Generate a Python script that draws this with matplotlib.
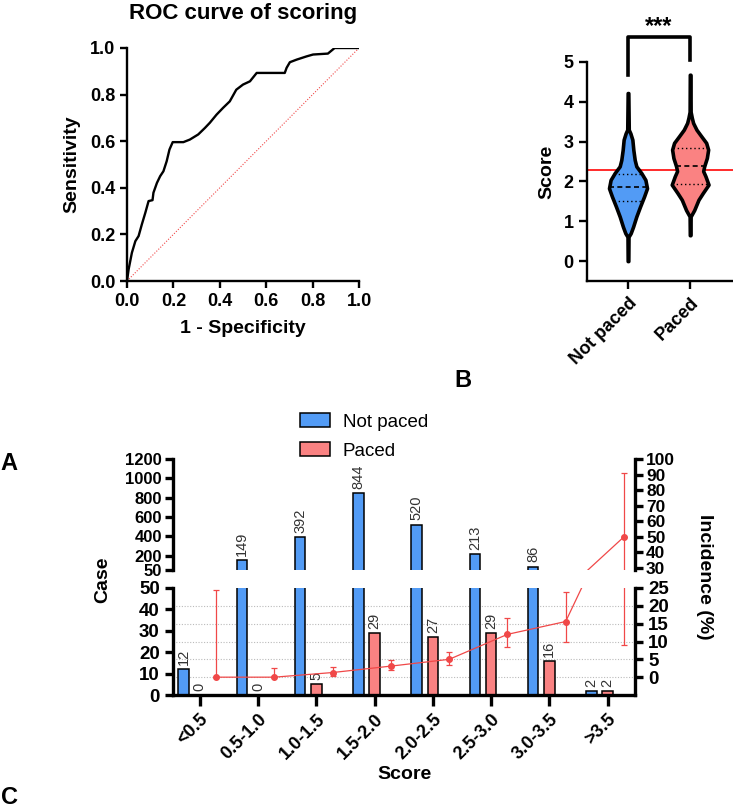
import numpy as np
import matplotlib
matplotlib.use("Agg")
import matplotlib.pyplot as plt
from matplotlib.patches import Patch
from matplotlib.transforms import blended_transform_factory

# ---- data ----
roc_fpr = [0, .007, .021, .036, .05, .064, .079, .093, .11, .114, .129, .143,
           .157, .171, .183, .197, .243, .271, .307, .336, .357, .386, .414,
           .443, .471, .5, .53, .559, .68, .688, .702, .731, .774, .802, .866,
           .895, 1.0]
roc_tpr = [0, .05, .121, .171, .193, .243, .293, .343, .347, .379, .421, .45,
           .471, .514, .564, .596, .596, .607, .629, .657, .679, .714, .743,
           .771, .821, .843, .857, .893, .893, .915, .939, .95, .964, .972,
           .976, 1.0, 1.0]

violin_groups = ["Not paced", "Paced"]
# violin outline: score levels and half-widths (x units)
np_score = [0.0, 0.61, 0.70, 0.86, 1.12, 1.37, 1.62, 1.83, 2.04, 2.21, 2.38,
            2.54, 2.79, 3.05, 3.21, 3.30, 4.22]
np_hw = [.005, .008, .043, .081, .134, .194, .258, .306, .280, .215, .134,
         .108, .086, .070, .038, .012, .005]
p_score = [0.65, 1.12, 1.28, 1.54, 1.71, 1.92, 2.13, 2.26, 2.38, 2.59, 2.80,
           2.97, 3.14, 3.30, 3.47, 3.60, 3.75, 4.68]
p_hw = [.005, .008, .065, .134, .204, .296, .247, .210, .226, .269, .290,
        .258, .177, .102, .048, .027, .008, .005]
np_quart = [1.51, 1.85, 2.18]
p_quart = [1.93, 2.38, 2.84]
cutoff = 2.29

score_bins = ["<0.5", "0.5-1.0", "1.0-1.5", "1.5-2.0", "2.0-2.5", "2.5-3.0",
              "3.0-3.5", ">3.5"]
not_paced = [12, 149, 392, 844, 520, 213, 86, 2]
paced = [0, 0, 5, 29, 27, 29, 16, 2]
incidence = [0, 0, 1.3, 3.1, 5.0, 12.0, 15.6, 50]
inc_low = [0, 0, 0.4, 2.0, 3.4, 8.4, 9.8, 9]
inc_high = [24.5, 2.5, 2.9, 4.8, 7.0, 16.6, 23.9, 91]

BLUE = "#529BF5"
PINK = "#FA8282"
RED = "#F04848"

plt.rcParams["font.family"] = ["Liberation Sans", "DejaVu Sans"]
plt.rcParams["font.weight"] = "bold"
plt.rcParams["axes.labelweight"] = "bold"

W, H = 733, 811


def box(l, t, r, b):
    return [l / W, 1 - b / H, (r - l) / W, (b - t) / H]


def style(ax, lw, tl, ls):
    for s in ["top", "right"]:
        ax.spines[s].set_visible(False)
    for s in ["left", "bottom"]:
        ax.spines[s].set_linewidth(lw)
    ax.tick_params(width=lw, length=tl, labelsize=ls)


fig = plt.figure(figsize=(W / 100, H / 100), dpi=100)

# ---- A: ROC ----
ax = fig.add_axes(box(127, 48, 359, 281))
ax.plot([0, 1], [0, 1], color=RED, lw=0.8, ls=(0, (1, 1.5)))
ax.plot(roc_fpr, roc_tpr, color="black", lw=1.7)
ax.set_xlim(0, 1)
ax.set_ylim(0, 1)
ax.set_xticks(np.arange(0, 1.01, 0.2))
ax.set_yticks(np.arange(0, 1.01, 0.2))
style(ax, 1.7, 5, 13)
ax.set_xlabel("1 - Specificity", fontsize=14, labelpad=7)
ax.set_ylabel("Sensitivity", fontsize=14, labelpad=7)
fig.text(243 / W, 1 - 13 / H, "ROC curve of scoring", fontsize=16,
         ha="center", va="center")

# ---- B: violins ----
bx = fig.add_axes(box(587, 62, 733, 281))
bx.axhline(cutoff, color="#FF2A2A", lw=1.4, zorder=1)
for i, (s, h, q, c) in enumerate([(np_score, np_hw, np_quart, BLUE),
                                  (p_score, p_hw, p_quart, PINK)]):
    s = np.array(s)
    h = np.array(h)
    bx.fill_betweenx(s, i - h, i + h, facecolor=c, edgecolor="black",
                     lw=2.6, zorder=3)
    for k, qv in enumerate(q):
        w = np.interp(qv, s, h)
        bx.plot([i - w, i + w], [qv, qv], color="black", zorder=4,
                lw=1.2 if k == 1 else 1.0,
                ls=(0, (3, 2)) if k == 1 else (0, (1, 2)))
bx.plot([0, 0, 1, 1], [4.68, 5.62, 5.62, 5.06], color="black", lw=2.6,
        clip_on=False)
bx.text(0.5, 5.9, "***", fontsize=17, ha="center", va="center")
bx.set_xlim(-0.66, 1.69)
bx.set_ylim(-0.5, 5)
bx.set_yticks(range(0, 6))
bx.set_xticks([0, 1])
bx.set_xticklabels(violin_groups, rotation=45, ha="right",
                   rotation_mode="anchor")
style(bx, 1.7, 6, 13)
bx.set_ylabel("Score", fontsize=14, labelpad=6)

# ---- C: broken-axis grouped bars with incidence ----
x = np.arange(len(score_bins))
off = 0.28
bw = 0.18
ax_t = fig.add_axes(box(173, 459, 635, 570))
ax_b = fig.add_axes(box(173, 588, 635, 695))
for a, lo, hi in [(ax_t, 50, 1200), (ax_b, 0, 50)]:
    a.bar(x - off, not_paced, bw, color=BLUE, edgecolor="black", lw=1.1,
          zorder=2)
    a.bar(x, paced, bw, color=PINK, edgecolor="black", lw=1.1, zorder=2)
    a.set_ylim(lo, hi)
    a.set_xlim(-0.46, 7.47)
    for xs, vals in [(x - off, not_paced), (x, paced)]:
        for xi, v in zip(xs, vals):
            if (v > 50) == (a is ax_t):
                a.annotate(str(v), (xi, v), xytext=(0, 3),
                           textcoords="offset points", rotation=90,
                           ha="center", va="bottom", fontsize=10.5,
                           fontweight="normal", color="#333333")
    style(a, 2.4, 6, 13.5)
    a.spines["right"].set_visible(False)

ax_t.spines["bottom"].set_visible(False)
ax_t.set_xticks([])
ax_t.set_yticks([50, 200, 400, 600, 800, 1000, 1200])
ax_t.tick_params(axis="y", labelsize=12, pad=2)
ax_b.set_yticks(range(0, 51, 10))
ax_b.set_xticks(x)
ax_b.set_xticklabels(score_bins, rotation=45, ha="right",
                     rotation_mode="anchor", fontsize=13)
ax_b.tick_params(axis="x", length=8)
ax_b.set_xlabel("Score", fontsize=14, labelpad=2)

r_t = ax_t.twinx()
r_b = ax_b.twinx()
for r, lo, hi, ticks in [(r_t, 28.7, 100, range(30, 101, 10)),
                         (r_b, -5, 25, range(0, 26, 5))]:
    for s in ["top", "bottom", "left"]:
        r.spines[s].set_visible(False)
    r.spines["right"].set_linewidth(2.4)
    r.tick_params(width=2.4, length=6, labelsize=13.5)
    r.set_ylim(lo, hi)
    r.set_yticks(list(ticks))
    r.errorbar(x + off, incidence,
               yerr=[np.array(incidence) - np.array(inc_low),
                     np.array(inc_high) - np.array(incidence)],
               color=RED, lw=0.9, marker="o", ms=4, capsize=2.5,
               elinewidth=0.9, capthick=0.9)
r_t.tick_params(axis="y", labelsize=12.5, pad=2)

trans = blended_transform_factory(ax_b.transAxes, r_b.transData)
for v in range(0, 21, 5):
    ax_b.plot([0, 1], [v, v], transform=trans, color="#BBBBBB", lw=0.8,
              ls=(0, (1, 1.5)), zorder=0)

fig.text(103 / W, 1 - 580 / H, "Case", rotation=90, fontsize=14,
         ha="center", va="center")
fig.text(705 / W, 1 - 577 / H, "Incidence (%)", rotation=-90, fontsize=14,
         ha="center", va="center")

fig.legend(handles=[Patch(facecolor=BLUE, edgecolor="black", lw=1.1),
                    Patch(facecolor=PINK, edgecolor="black", lw=1.1)],
           labels=["Not paced", "Paced"], loc="upper left",
           bbox_to_anchor=(283 / W, 1 - 396 / H), frameon=False,
           prop={"size": 13.5, "weight": "normal"}, handlelength=1.6,
           handleheight=0.8, labelspacing=0.6, handletextpad=0.7)

for lbl, px, py in [("A", 9, 463), ("B", 463, 380), ("C", 9, 797)]:
    fig.text(px / W, 1 - py / H, lbl, fontsize=17, ha="center", va="center")

fig.savefig("out.png", dpi=100)
